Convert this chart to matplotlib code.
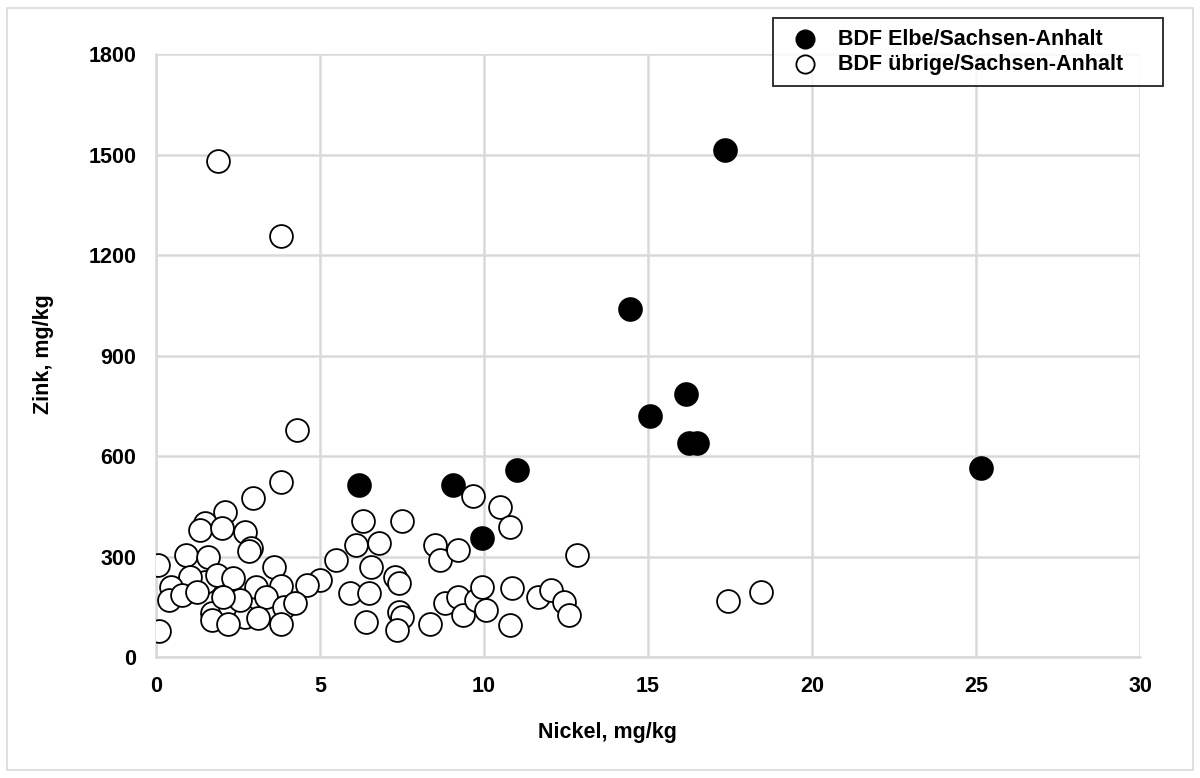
import matplotlib
matplotlib.use("Agg")
import matplotlib.pyplot as plt
from matplotlib.patches import Rectangle

# BDF Elbe/Sachsen-Anhalt (filled)
elbe_ni = [17.35, 14.45, 16.15, 15.05, 16.25, 16.5, 25.15, 11.0, 9.05, 6.2, 9.95]
elbe_zn = [1515, 1038, 785, 720, 638, 640, 565, 558, 513, 513, 355]

# BDF uebrige/Sachsen-Anhalt (open)
other_ni = [1.9, 3.8, 4.3, 3.8, 2.95, 2.1, 1.5, 1.35, 2.0, 2.7, 2.9, 2.85,
            0.05, 0.9, 1.6, 5.5, 3.6, 5.0, 4.6, 1.5, 1.05, 1.85, 2.35, 3.05,
            3.8, 0.45, 0.4, 0.8, 1.25, 3.35, 3.9, 4.25, 1.7, 2.25, 2.7, 3.1,
            3.8, 0.1, 1.7, 2.2, 2.55, 2.05,
            9.65, 10.5, 10.8, 6.3, 7.5, 6.1, 6.8, 8.5, 8.65, 9.2, 12.85,
            6.55, 5.9, 6.5, 7.3, 7.4, 6.4, 7.4, 7.5, 7.35, 8.35, 8.8, 9.2,
            9.35, 9.75, 9.95, 10.05, 10.85, 10.8, 11.65, 12.05, 12.45, 12.6,
            17.45, 18.45]
other_zn = [1480, 1258, 678, 522, 476, 432, 400, 380, 384, 374, 324, 316,
            275, 304, 300, 290, 268, 230, 215, 225, 240, 245, 235, 210,
            212, 210, 170, 185, 195, 180, 150, 160, 130, 150, 120, 115,
            98, 78, 110, 98, 170, 180,
            481, 449, 387, 407, 407, 334, 339, 334, 290, 319, 304,
            268, 190, 190, 240, 220, 105, 135, 120, 80, 98, 160, 180,
            125, 170, 210, 140, 205, 95, 180, 200, 165, 125,
            168, 194]

plt.rcParams['font.family'] = ['Liberation Sans', 'DejaVu Sans']
plt.rcParams['font.weight'] = 'bold'

fig = plt.figure(figsize=(12, 7.78), dpi=100)
ax = fig.add_axes([0.130, 0.1555, 0.820, 0.775])

ax.scatter(elbe_ni, elbe_zn, s=270, c='black', edgecolors='black',
           linewidths=1.3, zorder=3, label='BDF Elbe/Sachsen-Anhalt')
ax.scatter(other_ni, other_zn, s=270, c='white', edgecolors='black',
           linewidths=1.3, zorder=4, label='BDF übrige/Sachsen-Anhalt')

ax.set_xlim(0, 30)
ax.set_ylim(0, 1800)
ax.set_xticks(range(0, 31, 5))
ax.set_yticks(range(0, 1801, 300))
ax.grid(True, color='#d9d9d9', linewidth=1.8)
ax.set_axisbelow(True)
for side in ['top', 'right']:
    ax.spines[side].set_visible(False)
for side in ['left', 'bottom']:
    ax.spines[side].set_color('#d9d9d9')
    ax.spines[side].set_linewidth(1.8)
ax.tick_params(length=0, labelsize=15.5, pad=14)
for lab in ax.get_xticklabels() + ax.get_yticklabels():
    lab.set_fontweight('bold')

fig.text(0.506, 0.058, 'Nickel, mg/kg', ha='center', va='center',
         fontsize=15.5, fontweight='bold')
fig.text(0.036, 0.545, 'Zink, mg/kg', ha='center', va='center',
         rotation=90, fontsize=15.5, fontweight='bold')

# legend box spans roughly x 773..1163 px, y 18..85 px
leg = fig.legend(loc='upper left', mode='expand',
                 bbox_to_anchor=(773 / 1200, 1 - 85 / 778, 390 / 1200, 67 / 778),
                 frameon=True, fancybox=False, edgecolor='black',
                 prop={'weight': 'bold', 'size': 15.5},
                 handletextpad=0.5, borderpad=0.5, labelspacing=0.2,
                 markerscale=0.8, handlelength=2.0, borderaxespad=0)
leg.get_frame().set_linewidth(1.4)

# outer light border
fig.patches.append(Rectangle((0.006, 0.01), 0.988, 0.98, transform=fig.transFigure,
                             fill=False, edgecolor='#d9d9d9', linewidth=1.2))

fig.savefig('out.png', dpi=100)
